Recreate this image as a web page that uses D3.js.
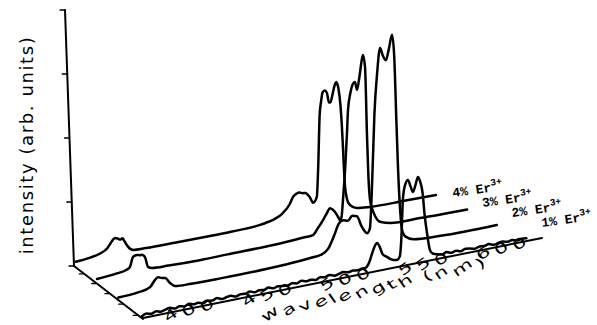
<!DOCTYPE html>
<html>
<head>
<meta charset="utf-8">
<script src="https://cdn.jsdelivr.net/npm/d3@7"></script>
<style>
  html, body { margin: 0; padding: 0; background: #fff; }
  svg { display: block; }
</style>
</head>
<body>
<svg id="chart" width="597" height="325"></svg>
<script>
// Er3+ emission spectra for four doping levels, drawn as a waterfall (back to front)
const concentrations = ["4%", "3%", "2%", "1%"];

// 4% Er3+ (back row)
const wl4 = [371, 380, 388, 393, 395, 397, 398.5, 400.5, 402, 403.5, 405, 407, 411, 420, 440, 460, 480, 500, 510, 515, 520, 522.5, 525, 527, 529, 531, 534, 536.5, 539, 540, 541, 542, 543, 544.5, 546, 547.5, 548.5, 550, 551.5, 552.5, 554, 555.5, 556.5, 557.3, 558.7, 561, 564, 567, 576, 600, 622];
const int4 = [0, 0.5, 1.5, 3, 4.5, 6, 6.5, 6, 5.5, 5.8, 4.5, 2.5, 0.5, 0.3, 0.3, 0.4, 0.6, 1.2, 2.5, 4, 7, 9.8, 10.8, 11, 10.5, 10.4, 8.5, 6, 8, 20, 40, 45, 48.4, 49, 48, 44, 44, 47, 50.5, 51.5, 49, 42, 33.6, 24.6, 9.8, 3.4, 1.5, 0.8, 0.3, 0.2, 0.2];

// 3% Er3+
const wl3 = [371.5, 385, 391, 393.8, 395.9, 398.6, 400.5, 402, 404, 406, 408.7, 420, 441, 460, 490, 505, 512, 517.7, 521, 524.5, 527, 529.2, 531, 532.6, 534.5, 536, 537, 538, 539.5, 540.7, 541.4, 543, 544.5, 546.1, 547.5, 549, 550.5, 551.5, 552.9, 554.2, 555.2, 556.3, 558, 559.7, 563, 570, 590, 622];
const int3 = [0.5, 1.2, 1.8, 2.7, 6.3, 6.8, 6.5, 6.5, 5.4, 1.5, 0.8, 0.5, 0.3, 0.5, 0.8, 1.2, 1.5, 1.7, 4, 6.7, 9, 10.7, 10, 8.9, 7, 5.5, 6.5, 13, 25, 38, 46.7, 53, 56, 56.8, 53.7, 58, 64, 66.5, 61.8, 36.5, 20, 11, 7, 4.5, 2, 0.8, 0.5, 0.4];

// 2% Er3+
const wl2 = [372, 385, 392.9, 396.2, 398.1, 400.8, 402.8, 406, 409.3, 420, 440, 470, 490, 500, 505, 510, 514, 517, 520, 523, 526, 529, 532, 535.7, 537.5, 539, 540.5, 542.3, 544.2, 546, 548, 550, 552.1, 553.5, 555, 556, 557.5, 558.7, 561, 566, 584, 621];
const int2 = [0.5, 1, 2.1, 4.4, 5.2, 4.6, 4.4, 2.2, 0.7, 0.4, 0.3, 0.5, 1, 1.5, 1.8, 3.5, 8, 12, 13, 12.5, 14, 13.5, 9.5, 6.5, 8, 25, 50, 65, 74, 71, 69, 73, 78, 70, 45, 28.7, 12, 5.2, 2.5, 1, 0.3, 0.3];

// 1% Er3+ (front row, noisy trace)
const wl1 = [374, 377, 380, 383, 386, 389, 392, 395, 398, 401, 404, 407, 410, 413, 416, 419, 422, 425, 428, 431, 434, 437, 440, 443, 446, 449, 452, 455, 458, 461, 464, 467, 470, 473, 476, 479, 482, 485, 488, 491, 494, 497, 500, 503, 506, 509, 512, 515,
             517, 519, 521, 523, 524.5, 526, 528, 530.8, 533, 535, 537.2, 539, 540, 541, 542.5, 544.2, 545.8, 547.4, 549, 550.6, 552, 553.5, 555, 556.4, 558.3, 560,
             563, 566, 569, 572, 575, 578, 581, 584, 587, 590, 593, 596, 599, 602, 605, 608, 611, 614, 617, 620];
const int1 = [0.3, 0.9, 0.5, 1.1, 0.6, 1.0, 1.3, 0.7, 1.2, 0.8, 1.4, 0.9, 1.1, 0.6, 1.2, 0.9, 1.5, 0.8, 1.1, 1.3, 0.7, 1.2, 1.0, 1.5, 0.9, 1.3, 1.1, 1.6, 1.0, 1.4, 1.2, 0.9, 1.5, 1.1, 1.7, 1.2, 1.4, 1.0, 1.6, 1.3, 1.8, 1.2, 1.5, 1.9, 1.4, 1.7, 1.5, 1.8,
              1.8, 3, 6, 9, 9.9, 8.5, 5.5, 4.2, 3.2, 2.6, 2.4, 3.5, 10, 24, 29, 30.4, 28, 25.7, 28, 30.7, 29, 25, 16, 10, 3.6, 2.2,
              1.6, 1.2, 1.7, 1.1, 1.5, 1.0, 1.6, 1.3, 0.9, 1.4, 1.2, 1.6, 1.0, 1.3, 1.5, 1.1, 1.4, 0.9, 1.2, 1.0];

const wavelengths = [wl4, wl3, wl2, wl1];
const intensities = [int4, int3, int2, int1];

const wavelengthTicks = [400, 450, 500, 550, 600];
const intensityTicks = [0, 25, 50, 75, 100];
const depthTicks = [0.15, 0.33, 0.52, 0.72, 0.93];

const svg = d3.select("#chart");
svg.append("rect").attr("width", 597).attr("height", 325).attr("fill", "#fff");

// scales: wavelength across the floor, concentration into depth, intensity upward
const wl = d3.scaleLinear().domain([374, 630]).range([0, 1]);
const depth = d3.scalePoint().domain(concentrations).range([0, 1]);
const inten = d3.scaleLinear().domain([0, 100]).range([0, 256]);

// floor quad of the spectra (back row → front row), slight perspective
const back0 = [80, 261], back1 = [447.4, 193.4], front0 = [142, 317], front1 = [542, 238];
const lerp = (a, b, f) => a + (b - a) * f;
function floorPt(u, t) {
  const bx = lerp(back0[0], back1[0], u), by = lerp(back0[1], back1[1], u);
  const fx = lerp(front0[0], front1[0], u), fy = lerp(front0[1], front1[1], u);
  return [lerp(bx, fx, t), lerp(by, fy, t)];
}
function project(lambda, t, I) {
  const [x, y] = floorPt(wl(lambda), t);
  return [x, y - inten(I) * (1 + 0.087 * t)];
}

const ink = "#000";
const labelFont = "'DejaVu Sans', sans-serif";

// axes frame
const corner = [74, 266], vTop = [65, 10], depthEnd = [143, 319];
const vAxis = d3.scaleLinear().domain([0, 100]).range([0, 1]);
const g = svg.append("g").attr("fill", "none").attr("stroke", ink).attr("stroke-linecap", "round");

g.append("line").attr("x1", corner[0]).attr("y1", corner[1]).attr("x2", vTop[0]).attr("y2", vTop[1]).attr("stroke-width", 2);
intensityTicks.forEach(v => {
  const f = vAxis(v);
  const x = lerp(corner[0], vTop[0], f), y = lerp(corner[1], vTop[1], f);
  g.append("line").attr("x1", x).attr("y1", y).attr("x2", x - 5).attr("y2", y).attr("stroke-width", 1.3);
});

g.append("line").attr("x1", corner[0]).attr("y1", corner[1]).attr("x2", depthEnd[0]).attr("y2", depthEnd[1]).attr("stroke-width", 2);
depthTicks.forEach(f => {
  const x = lerp(corner[0], depthEnd[0], f), y = lerp(corner[1], depthEnd[1], f);
  g.append("line").attr("x1", x - 1).attr("y1", y).attr("x2", x - 5).attr("y2", y).attr("stroke-width", 1.3);
});

const axisEnd = floorPt(wl(630), 1);
g.append("line").attr("x1", depthEnd[0]).attr("y1", depthEnd[1] - 1).attr("x2", axisEnd[0]).attr("y2", axisEnd[1]).attr("stroke-width", 2);

// spectra
const line = d3.line().curve(d3.curveMonotoneX);
concentrations.forEach((c, i) => {
  const t = depth(c);
  const pts = wavelengths[i].map((w, j) => project(w, t, intensities[i][j]));
  g.append("path").attr("d", line(pts)).attr("stroke-width", 2.5).attr("stroke-linejoin", "round");
});

// text lying on the floor: glyphs advance along the axis and are each turned further
function floorLabel(str, cx, cy, angle, spread, size) {
  const glyphAngle = -35, glyphStretch = 1.55;
  const tmp = svg.append("text").attr("font-family", labelFont).attr("font-size", size).text(str);
  const node = tmp.node();
  const total = node.getComputedTextLength();
  const centers = [];
  for (let i = 0; i < str.length; i++) {
    const s = node.getStartPositionOfChar(i).x, e = node.getEndPositionOfChar(i).x;
    centers.push((s + e) / 2);
  }
  tmp.remove();
  const a = angle * Math.PI / 180;
  const grp = svg.append("g").attr("font-family", labelFont)
    .attr("font-size", size).attr("fill", ink);
  str.split("").forEach((ch, i) => {
    if (ch === " ") return;
    const d = (centers[i] - total / 2) * spread;
    const x = cx + d * Math.cos(a), y = cy + d * Math.sin(a);
    grp.append("text")
      .attr("transform", `translate(${x.toFixed(2)},${y.toFixed(2)}) rotate(${glyphAngle}) scale(${glyphStretch},1)`)
      .attr("text-anchor", "middle").attr("dominant-baseline", "central")
      .text(ch);
  });
}

wavelengthTicks.forEach(v => {
  const [x, y] = floorPt(wl(v), 1);
  floorLabel(String(v), x + 6, y + 1, -15, 2.1, 14);
});
floorLabel("wavelength (nm)", 372, 289, -13.5, 1.95, 14);

// intensity axis title
svg.append("text")
  .attr("transform", "translate(33,145) rotate(-90)")
  .attr("text-anchor", "middle")
  .attr("font-family", labelFont).attr("font-size", 18)
  .attr("letter-spacing", 1.6)
  .attr("fill", ink).text("intensity (arb. units)");

// concentration labels at the end of each row
const lx = d3.scalePoint().domain(concentrations).range([453, 542]);
const ly = d3.scalePoint().domain(concentrations).range([197, 227]);
concentrations.forEach(c => {
  const t = svg.append("text")
    .attr("transform", `translate(${lx(c)},${ly(c)}) rotate(-8)`)
    .attr("font-family", "'Liberation Mono', 'Courier New', monospace")
    .attr("font-weight", "bold").attr("font-size", 13).attr("fill", ink);
  t.append("tspan").text(c + " Er");
  t.append("tspan").attr("dy", -6).attr("font-size", 9.5).text("3+");
});
</script>
</body>
</html>
